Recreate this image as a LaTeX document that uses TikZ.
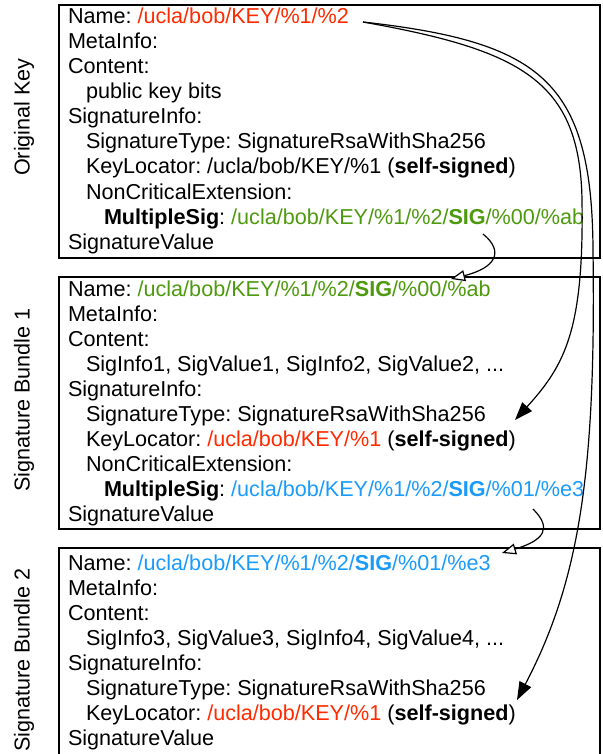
\documentclass[tikz,border=0pt]{standalone}
\usepackage{fontspec}
\setmainfont{Liberation Sans}
\usetikzlibrary{arrows.meta}
\definecolor{kred}{HTML}{FF2A00}
\definecolor{kgreen}{HTML}{4E9A0E}
\definecolor{kblue}{HTML}{1A9BFC}
\frenchspacing
\tikzset{
  ln/.style={anchor=base west, inner sep=0pt, outer sep=0pt, font=\fontsize{21.6}{25}\selectfont},
  lbl/.style={rotate=90, inner sep=0pt, font=\fontsize{21.6}{25}\selectfont},
  boxl/.style={draw, line width=1.2pt},
  bigarrow/.style={line width=1.2pt, -{Triangle[length=18pt,width=13pt]}},
  openarrow/.style={line width=1.2pt, -{Triangle[length=14pt,width=11pt,fill=white]}},
}
\begin{document}
\begin{tikzpicture}[x=1pt,y=-1pt]
\useasboundingbox (0,0) rectangle (602,754);
\clip (0,0) rectangle (602,754);
% boxes
\draw[boxl] (59,5) rectangle (600,258);
\draw[boxl] (59,277) rectangle (600,529);
\draw[boxl] (59,770) -- (59,548) -- (600,548) -- (600,770);
% labels
\node[lbl] (l1) at (24,117) {Original Key};
\node[lbl] (l2) at (24,400) {Signature Bundle 1};
\node[lbl] (l3) at (24,660) {Signature Bundle 2};
% box 1
\node[ln] (a1) at (68,24) {Name: \textcolor{kred}{/ucla/bob/KEY/\%1/\%2}};
\node[ln] (a2) at (68,49) {MetaInfo:};
\node[ln] (a3) at (68,74) {Content:};
\node[ln] (a4) at (86,99) {public key bits};
\node[ln] (a5) at (68,124) {SignatureInfo:};
\node[ln] (a6) at (86,149) {SignatureType: SignatureRsaWithSha256};
\node[ln] (a7) at (86,174) {KeyLocator: /ucla/bob/KEY/\%1 (\textbf{self-signed})};
\node[ln] (a8) at (86,199) {NonCriticalExtension:};
\node[ln] (a9) at (104,224) {\textbf{MultipleSig}: \textcolor{kgreen}{/ucla/bob/KEY/\%1/\%2/\textbf{SIG}/\%00/\%ab}};
\node[ln] (a10) at (68,249) {SignatureValue};
% box 2
\node[ln] (b1) at (68,296) {Name: \textcolor{kgreen}{/ucla/bob/KEY/\%1/\%2/\textbf{SIG}/\%00/\%ab}};
\node[ln] (b2) at (68,321) {MetaInfo:};
\node[ln] (b3) at (68,346) {Content:};
\node[ln] (b4) at (86,371) {SigInfo1, SigValue1, SigInfo2, SigValue2, ...};
\node[ln] (b5) at (68,396) {SignatureInfo:};
\node[ln] (b6) at (86,421) {SignatureType: SignatureRsaWithSha256};
\node[ln] (b7) at (86,446) {KeyLocator: \textcolor{kred}{/ucla/bob/KEY/\%1} (\textbf{self-signed})};
\node[ln] (b8) at (86,471) {NonCriticalExtension:};
\node[ln] (b9) at (104,496) {\textbf{MultipleSig}: \textcolor{kblue}{/ucla/bob/KEY/\%1/\%2/\textbf{SIG}/\%01/\%e3}};
\node[ln] (b10) at (68,521) {SignatureValue};
% box 3
\node[ln] (c1) at (68,570) {Name: \textcolor{kblue}{/ucla/bob/KEY/\%1/\%2/\textbf{SIG}/\%01/\%e3}};
\node[ln] (c2) at (68,595) {MetaInfo:};
\node[ln] (c3) at (68,620) {Content:};
\node[ln] (c4) at (86,645) {SigInfo3, SigValue3, SigInfo4, SigValue4, ...};
\node[ln] (c5) at (68,670) {SignatureInfo:};
\node[ln] (c6) at (86,695) {SignatureType: SignatureRsaWithSha256};
\node[ln] (c7) at (86,720) {KeyLocator: \textcolor{kred}{/ucla/bob/KEY/\%1} (\textbf{self-signed})};
\node[ln] (c8) at (68,745) {SignatureValue};
% connector end points
\coordinate (s0) at (363,22);
\coordinate (t1) at (515,420);
\coordinate (t2) at (517,700);
\coordinate (u0) at (483,234);
\coordinate (u1) at (451,279);
\coordinate (v0) at (533,509);
\coordinate (v1) at (502,553);
% big curves
\draw[bigarrow] (s0) .. controls (520,50) and (580,80) .. (582,200)
   .. controls (584,330) and (565,365) .. (t1);
\draw[bigarrow] (s0) .. controls (540,42) and (592,80) .. (593,250)
   .. controls (596,470) and (580,580) .. (t2);
% small arrows
\draw[openarrow] (u0) .. controls (505,252) and (495,268) .. (u1);
\draw[openarrow] (v0) .. controls (552,528) and (545,540) .. (v1);
\end{tikzpicture}
\end{document}
